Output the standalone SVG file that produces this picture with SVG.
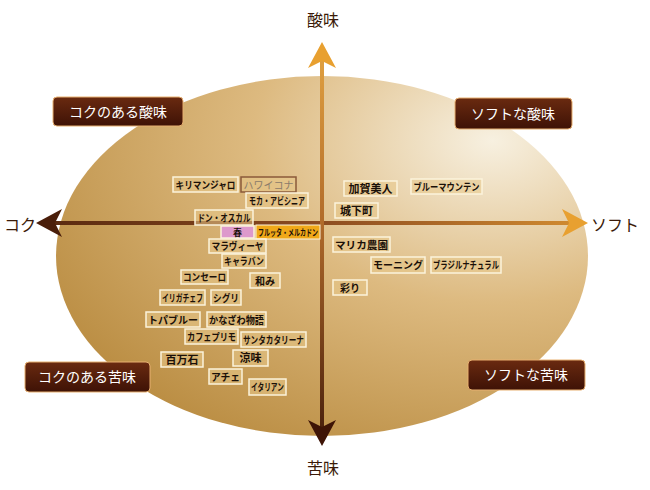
<svg xmlns="http://www.w3.org/2000/svg" width="650" height="490" viewBox="0 0 650 490">
<defs>
<radialGradient id="eg" cx="0.82" cy="0.18" r="1.0">
<stop offset="0" stop-color="#f7f0e0"/><stop offset="0.45" stop-color="#ddba80"/><stop offset="1" stop-color="#b88a3e"/>
</radialGradient>
<linearGradient id="hg" gradientUnits="userSpaceOnUse" x1="50" y1="0" x2="575" y2="0"><stop offset="0" stop-color="#5a2a10"/><stop offset="0.5" stop-color="#8a4a20"/><stop offset="1" stop-color="#d08a30"/></linearGradient>
<linearGradient id="vg" gradientUnits="userSpaceOnUse" x1="0" y1="55" x2="0" y2="432"><stop offset="0" stop-color="#e0a040"/><stop offset="0.45" stop-color="#b06a2a"/><stop offset="1" stop-color="#4a200c"/></linearGradient>
<linearGradient id="cb" x1="0" x2="0" y1="0" y2="1"><stop offset="0" stop-color="#6a2a10"/><stop offset="1" stop-color="#3e1206"/></linearGradient>
</defs>
<style>
.t{font-family:"Noto Sans CJK JP","Noto Sans",sans-serif;font-weight:bold;font-size:10px;fill:#1a1008;text-anchor:middle}
.b{fill:#e8c98a;fill-opacity:0.55;stroke:#fbf3dc;stroke-width:1.5}
.ax{font-family:"Noto Sans CJK JP","Noto Sans",sans-serif;font-size:16px;fill:#3a1a08;text-anchor:middle}
.cb{fill:url(#cb);stroke:#e8b070;stroke-width:1}
.ct{font-family:"Noto Sans CJK JP","Noto Sans",sans-serif;font-size:14px;fill:#fff;text-anchor:middle}
</style>
<rect width="650" height="490" fill="#fff"/>
<ellipse cx="322" cy="256" rx="266" ry="180" fill="url(#eg)"/>
<g id="connectors">
<rect x="50" y="221" width="525" height="4" fill="url(#hg)"/>
<rect x="320" y="55" width="4" height="377" fill="url(#vg)"/>
<polygon points="36,223 62,209 55,223 62,237" fill="#4a1e0a"/>
<polygon points="588,223 562,209 569,223 562,237" fill="#e8a030"/>
<polygon points="322,42 308,68 322,61 336,68" fill="#e8a030"/>
<polygon points="322,446 308,420 322,427 336,420" fill="#3e1406"/>
</g>
<text class="ax" x="323" y="26">酸味</text>
<text class="ax" x="323" y="474">苦味</text>
<text class="ax" x="20" y="231">コク</text>
<text class="ax" x="615" y="231">ソフト</text>
<g id="c1"><rect class="cb" x="53" y="97" width="130" height="29" rx="4"/><text class="ct" x="118" y="117">コクのある酸味</text></g>
<g id="c2"><rect class="cb" x="455" y="98" width="117" height="31" rx="4"/><text class="ct" x="513" y="119">ソフトな酸味</text></g>
<g id="c3"><rect class="cb" x="25" y="362" width="125" height="30" rx="4"/><text class="ct" x="87" y="382">コクのある苦味</text></g>
<g id="c4"><rect class="cb" x="468" y="360" width="117" height="30" rx="4"/><text class="ct" x="526" y="380">ソフトな苦味</text></g>
<g id="n1"><rect class="b" x="173" y="177" width="65" height="15"/><text class="t" x="205.5" y="188.5" textLength="60" lengthAdjust="spacingAndGlyphs">キリマンジャロ</text></g>
<g id="n2"><rect x="241" y="177" width="55" height="15" fill="#e8c98a" fill-opacity="0.5" stroke="#8a5a3a" stroke-width="1.5"/><text class="t" x="268.5" y="188.5" style="fill:#8a7a6a;font-weight:normal" textLength="50" lengthAdjust="spacingAndGlyphs">ハワイコナ</text></g>
<g id="n3"><rect class="b" x="246" y="193" width="62" height="15"/><text class="t" x="277" y="204.5" textLength="56" lengthAdjust="spacingAndGlyphs">モカ・アビシニア</text></g>
<g id="n4"><rect class="b" x="195" y="210" width="58" height="15"/><text class="t" x="224" y="221.5" textLength="53" lengthAdjust="spacingAndGlyphs">ドン・オスカル</text></g>
<g id="n5"><rect x="221" y="226" width="33" height="12" fill="#dd99cc" stroke="#fbf3dc" stroke-width="1.5"/><text class="t" x="237.5" y="235.5" style="font-size:9px">春</text></g>
<g id="n6"><rect x="256" y="225" width="64" height="14" fill="#f0a818" stroke="#fbf3dc" stroke-width="1"/><text class="t" x="288" y="236" style="font-size:9px" textLength="60" lengthAdjust="spacingAndGlyphs">フルッタ・メルカドン</text></g>
<g id="n7"><rect class="b" x="209" y="239" width="57" height="14"/><text class="t" x="237.5" y="250" textLength="52" lengthAdjust="spacingAndGlyphs">マラヴィーヤ</text></g>
<g id="n8"><rect class="b" x="222" y="254" width="44" height="14"/><text class="t" x="244" y="265" textLength="40" lengthAdjust="spacingAndGlyphs">キャラバン</text></g>
<g id="n9"><rect class="b" x="181" y="270" width="47" height="14"/><text class="t" x="204.5" y="281" textLength="43" lengthAdjust="spacingAndGlyphs">コンセーロ</text></g>
<g id="n10"><rect class="b" x="250" y="273" width="30" height="15"/><text class="t" x="265" y="284.5">和み</text></g>
<g id="n11"><rect class="b" x="160" y="290" width="45" height="15"/><text class="t" x="182.5" y="301.5" textLength="41" lengthAdjust="spacingAndGlyphs">イリガチェフ</text></g>
<g id="n12"><rect class="b" x="211" y="290" width="30" height="15"/><text class="t" x="226" y="301.5" textLength="26" lengthAdjust="spacingAndGlyphs">シグリ</text></g>
<g id="n13"><rect class="b" x="146" y="312" width="54" height="15"/><text class="t" x="173" y="323.5" textLength="50" lengthAdjust="spacingAndGlyphs">トパブルー</text></g>
<g id="n14"><rect class="b" x="207" y="312" width="59" height="15"/><text class="t" x="236.5" y="323.5" textLength="55" lengthAdjust="spacingAndGlyphs">かなざわ物語</text></g>
<g id="n15"><rect class="b" x="185" y="329" width="53" height="15"/><text class="t" x="211.5" y="340.5" textLength="49" lengthAdjust="spacingAndGlyphs">カフェプリモ</text></g>
<g id="n16"><rect class="b" x="241" y="332" width="65" height="15"/><text class="t" x="273.5" y="343.5" textLength="61" lengthAdjust="spacingAndGlyphs">サンタカタリーナ</text></g>
<g id="n17"><rect class="b" x="161" y="352" width="42" height="15"/><text class="t" x="182" y="363.5" style="font-size:11px">百万石</text></g>
<g id="n18"><rect class="b" x="233" y="350" width="35" height="16"/><text class="t" x="250.5" y="362" style="font-size:11px">涼味</text></g>
<g id="n19"><rect class="b" x="209" y="369" width="33" height="15"/><text class="t" x="225.5" y="380.5" textLength="29" lengthAdjust="spacingAndGlyphs">アチェ</text></g>
<g id="n20"><rect class="b" x="249" y="379" width="37" height="16"/><text class="t" x="267.5" y="391" textLength="33" lengthAdjust="spacingAndGlyphs">イタリアン</text></g>
<g id="n21"><rect class="b" x="344" y="181" width="53" height="15"/><text class="t" x="370.5" y="192.5" style="font-size:11px">加賀美人</text></g>
<g id="n22"><rect class="b" x="411" y="179" width="71" height="15"/><text class="t" x="446.5" y="190.5" textLength="66" lengthAdjust="spacingAndGlyphs">ブルーマウンテン</text></g>
<g id="n23"><rect class="b" x="335" y="203" width="43" height="15"/><text class="t" x="356.5" y="214.5" style="font-size:11px">城下町</text></g>
<g id="n24"><rect class="b" x="333" y="237" width="57" height="15"/><text class="t" x="361.5" y="248.5" textLength="53" lengthAdjust="spacingAndGlyphs">マリカ農園</text></g>
<g id="n25"><rect class="b" x="371" y="257" width="54" height="16"/><text class="t" x="398" y="269" textLength="50" lengthAdjust="spacingAndGlyphs">モーニング</text></g>
<g id="n26"><rect class="b" x="431" y="257" width="70" height="16"/><text class="t" x="466" y="269" textLength="66" lengthAdjust="spacingAndGlyphs">ブラジルナチュラル</text></g>
<g id="n27"><rect class="b" x="333" y="280" width="34" height="15"/><text class="t" x="350" y="291.5">彩り</text></g>
</svg>
